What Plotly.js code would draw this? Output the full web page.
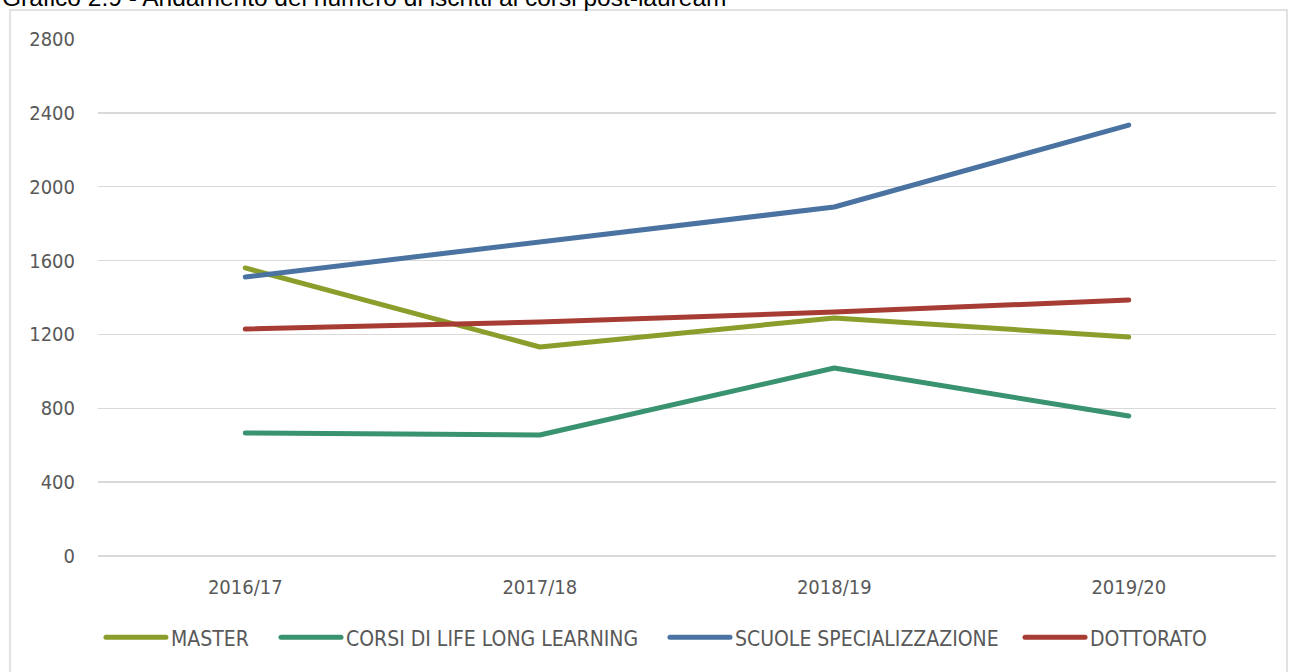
<!DOCTYPE html>
<html>
<head>
<meta charset="utf-8">
<script src="https://cdn.plot.ly/plotly-3.0.1.min.js"></script>
<style>html,body{margin:0;padding:0;background:#fff;}#chart{width:1289px;height:672px;}#chart path.js-line{stroke-linecap:round;stroke-linejoin:round;}</style>
</head>
<body>
<div id="chart"></div>
<script>
const categories = ["2016/17", "2017/18", "2018/19", "2019/20"];
const master = [1560, 1132, 1289, 1186];
const lifeLong = [666, 655, 1018, 758];
const scuole = [1511, 1700, 1890, 2334];
const dottorato = [1229, 1267, 1321, 1386];
const seriesNames = ["MASTER", "CORSI DI LIFE LONG LEARNING", "SCUOLE SPECIALIZZAZIONE", "DOTTORATO"];
const yTicks = [0, 400, 800, 1200, 1600, 2000, 2400, 2800];
const titleText = "Grafico 2.9 - Andamento del numero di iscritti ai corsi post-lauream";

const colors = ["#8a9e2b", "#3a9370", "#4a73a1", "#a63c33"];
const legendIds = ["legend", "legend2", "legend3", "legend4"];
const data = [master, lifeLong, scuole, dottorato].map((v, i) => ({
  x: categories, y: v, name: seriesNames[i], type: "scatter", mode: "lines",
  line: {color: colors[i], width: 5}, legend: legendIds[i]
}));

const font = "'Liberation Sans Narrow', 'DejaVu Sans Condensed', 'Open Sans', sans-serif";
const legendX = [0.0025, 0.1511, 0.4813, 0.7827];
const layout = {
  width: 1289, height: 672,
  margin: {l: 98, r: 13, t: 39, b: 116},
  paper_bgcolor: "#fff", plot_bgcolor: "#fff",
  showlegend: true,
  xaxis: {
    type: "category", range: [-0.5, 3.5], showgrid: false, zeroline: false,
    showline: false, ticks: "", tickfont: {family: font, size: 20, color: "#595959"},
    ticklabelstandoff: 17
  },
  yaxis: {
    range: [0, 2800], tickvals: yTicks, ticktext: yTicks.map(String),
    showgrid: true, gridcolor: "#d9d9d9", gridwidth: 1.5, zeroline: true, zerolinecolor: "#d9d9d9", zerolinewidth: 1.5,
    showline: false, ticks: "", tickfont: {family: font, size: 20, color: "#595959"},
    ticklabelstandoff: 22
  },
  shapes: [{
    type: "rect", xref: "paper", yref: "paper",
    x0: -0.0747, x1: 1.0093, y0: -0.3, y1: 1.056,
    line: {color: "#d9d9d9", width: 1.5}, fillcolor: "rgba(0,0,0,0)", layer: "below"
  }],
  annotations: [{
    text: titleText, xref: "paper", yref: "paper", x: -0.083, y: 1.081,
    xanchor: "left", yanchor: "middle", showarrow: false,
    font: {family: "'Liberation Sans', Arial, sans-serif", size: 24.5, color: "#000"}
  }]
};
legendIds.forEach((id, i) => {
  layout[id] = {
    orientation: "h", x: legendX[i], xanchor: "left", y: -0.158, yanchor: "middle",
    font: {family: font, size: 21, color: "#595959"}, itemwidth: 60, bgcolor: "rgba(0,0,0,0)"
  };
});
Plotly.newPlot("chart", data, layout, {displayModeBar: false, staticPlot: true});
</script>
</body>
</html>
